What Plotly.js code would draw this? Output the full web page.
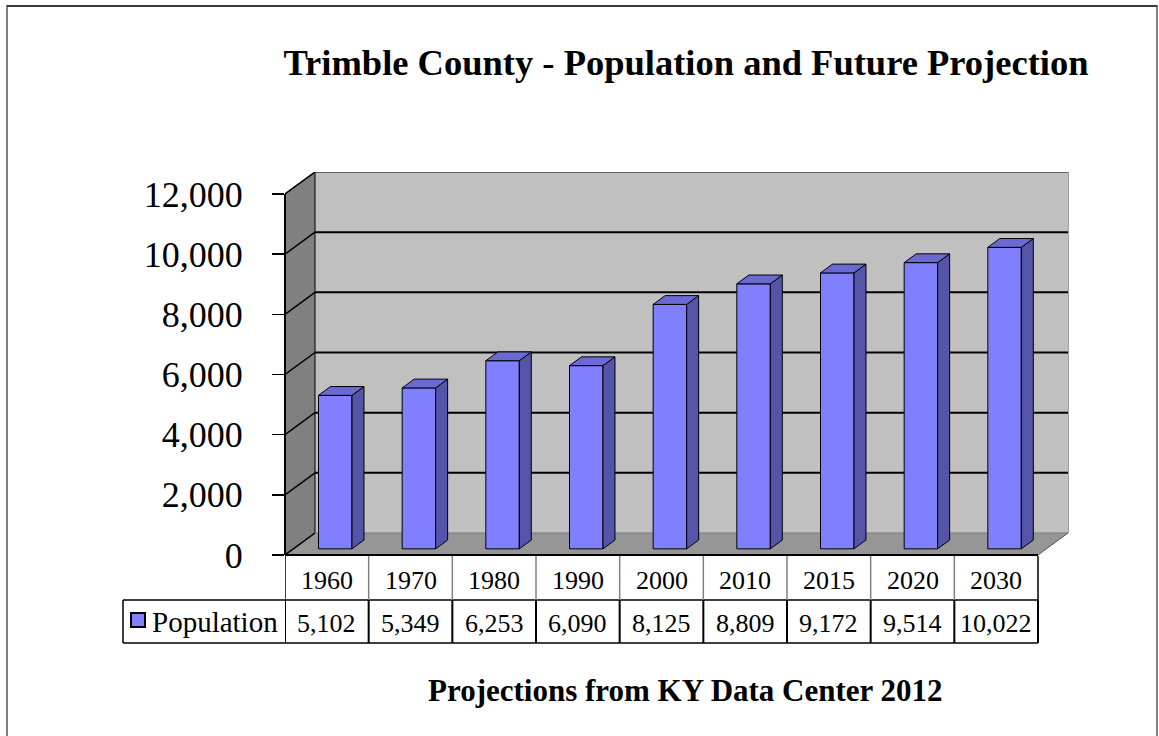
<!DOCTYPE html>
<html><head><meta charset="utf-8">
<script src="https://cdn.plot.ly/plotly-3.0.1.min.js"></script>
<style>html,body{margin:0;padding:0;background:#fff;} #chart{width:1159px;height:736px;}</style>
</head><body><div id="chart"></div>
<script>
// ---- data ----
const years = ['1960','1970','1980','1990','2000','2010','2015','2020','2030'];
const population = [5102, 5349, 6253, 6090, 8125, 8809, 9172, 9514, 10022];
const valueLabels = ['5,102','5,349','6,253','6,090','8,125','8,809','9,172','9,514','10,022'];
const yTickVals = [0, 2000, 4000, 6000, 8000, 10000, 12000];
const yTickText = ['0','2,000','4,000','6,000','8,000','10,000','12,000'];
const seriesName = 'Population';
const chartTitle = 'Trimble County - Population and Future Projection';
const footnote = 'Projections from KY Data Center 2012';

// ---- layout geometry ----
const W = 1159, H = 736;
const ML = 285, MR = 91, MT = 172, MB = 181;
const PW = W - ML - MR, PH = H - MT - MB;
const px = p => (p - ML) / PW;
const py = p => (H - MB - p) / PH;
const SERIF = "'Liberation Serif', 'Times New Roman', serif";

const N = years.length;
const DX = 0.3586, DY = 731;      // oblique depth (category units, value units)
const D0 = 0.28, D1 = 0.68, BW = 0.4;
const TOP = yTickVals[yTickVals.length - 1];
const xMin = -0.5, xMax = N - 0.5;

// pseudo-3D faces of the bars from the data
const sideX = [], sideY = [], topX = [], topY = [];
population.forEach((v, i) => {
  const xl = i - BW / 2 + D0 * DX, xr = i + BW / 2 + D0 * DX;
  const sh = (D1 - D0) * DX, sv = (D1 - D0) * DY;
  const b = D0 * DY;
  sideX.push(xr, xr, xr + sh, xr + sh, xr, null);
  sideY.push(b, b + v, b + v + sv, b + sv, b, null);
  topX.push(xl, xr, xr + sh, xl + sh, xl, null);
  topY.push(b + v, b + v, b + v + sv, b + v + sv, b + v, null);
});

const traces = [
  {type: 'bar', x: years.map((_, i) => i + D0 * DX), y: population, base: D0 * DY, width: BW,
   name: seriesName, marker: {color: '#8080FF', line: {color: '#000', width: 1}}, hoverinfo: 'skip'},
  {type: 'scatter', mode: 'lines', x: sideX, y: sideY, fill: 'toself', fillcolor: '#5454A8',
   line: {color: '#000', width: 1}, hoverinfo: 'skip'},
  {type: 'scatter', mode: 'lines', x: topX, y: topY, fill: 'toself', fillcolor: '#6A6AD2',
   line: {color: '#000', width: 1}, hoverinfo: 'skip'}
];

const shapes = [];
// back wall
shapes.push({type: 'rect', xref: 'x', yref: 'y', x0: xMin + DX, x1: xMax + DX, y0: DY, y1: TOP + DY,
  fillcolor: '#C0C0C0', line: {width: 0}, layer: 'below'});
// floor
shapes.push({type: 'path', xref: 'x', yref: 'y',
  path: `M ${xMin},0 L ${xMax},0 L ${xMax + DX},${DY} L ${xMin + DX},${DY} Z`,
  fillcolor: '#969696', line: {width: 0}, layer: 'below'});
// left wall
shapes.push({type: 'path', xref: 'x', yref: 'y',
  path: `M ${xMin},0 L ${xMin},${TOP} L ${xMin + DX},${TOP + DY} L ${xMin + DX},${DY} Z`,
  fillcolor: '#808080', line: {color: '#000', width: 1}, layer: 'below'});
// gridlines
yTickVals.forEach(v => {
  if (v > 0) {
    shapes.push({type: 'line', xref: 'x', yref: 'y', x0: xMin + DX, x1: xMax + DX, y0: v + DY, y1: v + DY,
      line: {color: '#000', width: v === TOP ? 1 : 2}, layer: 'below'});
  } else {
    shapes.push({type: 'line', xref: 'x', yref: 'y', x0: xMin + DX, x1: xMax + DX, y0: DY, y1: DY,
      line: {color: '#7a7a7a', width: 1}, layer: 'below'});
  }
  shapes.push({type: 'line', xref: 'x', yref: 'y', x0: xMin, x1: xMin + DX, y0: v, y1: v + DY,
    line: {color: '#000', width: 1.5}, layer: 'below'});
});
// back wall right edge, floor right edge
shapes.push({type: 'line', xref: 'paper', yref: 'y', x0: 1, x1: 1, y0: DY, y1: TOP + DY,
  line: {color: '#808080', width: 1.5}, layer: 'below'});
shapes.push({type: 'line', xref: 'x', yref: 'y', x0: xMax, x1: xMax + DX, y0: 0, y1: DY,
  line: {color: '#555', width: 1}, layer: 'below'});
// left wall front edge (axis line)
shapes.push({type: 'line', xref: 'paper', yref: 'y', x0: 0, x1: 0, y0: 0, y1: TOP,
  line: {color: '#000', width: 2}});

// data table
const rowTop = 556, rowMid = 600, rowBot = 643, legL = 123;
const tableRight = ML + N * PW / (N + DX);
shapes.push({type: 'line', xref: 'x', yref: 'paper', x0: xMin, x1: xMax, y0: 0, y1: 0,
  line: {color: '#000', width: 2}});
shapes.push({type: 'line', xref: 'paper', yref: 'paper', x0: px(legL), x1: px(tableRight), y0: py(rowMid), y1: py(rowMid),
  line: {color: '#000', width: 1.5}});
shapes.push({type: 'line', xref: 'paper', yref: 'paper', x0: px(legL), x1: px(tableRight), y0: py(rowBot), y1: py(rowBot),
  line: {color: '#000', width: 1.5}});
for (let k = 0; k <= N; k++) {
  const outer = (k === 0 || k === N);
  shapes.push({type: 'line', xref: 'x', yref: 'paper', x0: xMin + k, x1: xMin + k, y0: py(rowTop), y1: py(rowMid),
    line: {color: outer ? '#000' : '#808080', width: 1.5}});
  shapes.push({type: 'line', xref: 'x', yref: 'paper', x0: xMin + k, x1: xMin + k, y0: py(rowMid), y1: py(rowBot),
    line: {color: '#000', width: 2}});
}
shapes.push({type: 'line', xref: 'paper', yref: 'paper', x0: px(legL), x1: px(legL), y0: py(rowMid), y1: py(rowBot),
  line: {color: '#000', width: 1.5}});
// legend key
shapes.push({type: 'rect', xref: 'paper', yref: 'paper', x0: px(131), x1: px(145), y0: py(613), y1: py(627),
  fillcolor: '#8080FF', line: {color: '#000', width: 2}});
// outer frame
shapes.push({type: 'rect', xref: 'paper', yref: 'paper', x0: px(7), x1: px(1157), y0: py(6), y1: py(760),
  fillcolor: 'rgba(0,0,0,0)', line: {color: '#808080', width: 2}});
shapes.push({type: 'line', xref: 'paper', yref: 'paper', x0: px(7), x1: px(1157), y0: py(6), y1: py(6),
  line: {color: '#222', width: 1.5}});

const annotations = [];
years.forEach((yr, i) => {
  annotations.push({xref: 'x', yref: 'paper', x: i, y: py(580), text: yr, showarrow: false,
    xanchor: 'center', yanchor: 'middle', font: {family: SERIF, size: 26, color: '#000'}});
  annotations.push({xref: 'x', yref: 'paper', x: i, y: py(623), text: valueLabels[i], showarrow: false,
    xanchor: 'center', yanchor: 'middle', font: {family: SERIF, size: 26, color: '#000'}});
});
annotations.push({xref: 'paper', yref: 'paper', x: px(150), y: py(622), text: seriesName, showarrow: false,
  xanchor: 'left', yanchor: 'middle', font: {family: SERIF, size: 29, color: '#000'}});
annotations.push({xref: 'paper', yref: 'paper', x: px(685), y: py(690), text: '<b>' + footnote + '</b>', showarrow: false,
  xanchor: 'center', yanchor: 'middle', font: {family: SERIF, size: 31, color: '#000'}});

const layout = {
  width: W, height: H,
  margin: {l: ML, r: MR, t: MT, b: MB, pad: 0},
  paper_bgcolor: '#fff', plot_bgcolor: 'rgba(0,0,0,0)',
  showlegend: false,
  title: {text: '<b>' + chartTitle + '</b>', x: 686 / W, xanchor: 'center', xref: 'container',
    y: 1 - 62 / H, yanchor: 'middle', yref: 'container',
    font: {family: SERIF, size: 36.5, color: '#000'}},
  xaxis: {range: [xMin, xMax + DX], visible: false, fixedrange: true},
  yaxis: {range: [0, TOP + DY], tickvals: yTickVals, ticktext: yTickText, ticks: 'outside', ticklen: 12,
    tickwidth: 1.5, tickcolor: '#000', showgrid: false, zeroline: false, showline: false,
    ticklabelstandoff: 22, tickfont: {family: SERIF, size: 36, color: '#000'}, fixedrange: true},
  bargap: 0,
  shapes: shapes,
  annotations: annotations
};

Plotly.newPlot('chart', traces, layout, {staticPlot: true, displayModeBar: false});
</script>
</body></html>
